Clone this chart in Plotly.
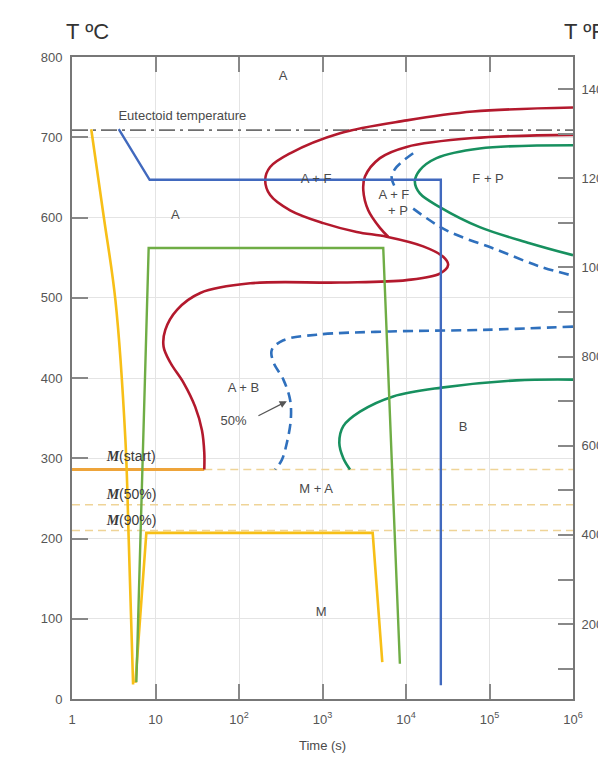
import numpy as np
import plotly.graph_objects as go

# ---------------- data (time in s, temperature in °C) ----------------
eutectoid_T = 709
ms_T = 286        # M(start)
m50_T = 242       # M(50%)
m90_T = 210       # M(90%)
t_min, t_max = 1, 1e6

# outer red curve (start of transformation, incl. bainite nose)
red_outer_t = [1e6, 63500, 10200, 1620, 409, 236, 206, 236, 409, 1023, 2570, 5860,
               16060, 27900, 31950, 25400, 10160, 1620, 136, 34.4, 18.1, 13.1, 12.5,
               15.1, 21.7, 29.9, 36.0, 38.4, 38.4]
red_outer_T = [737, 732, 721, 705, 680, 663, 647, 628, 609, 593, 582, 576,
               564, 551, 541, 530, 522, 519, 518, 506, 485, 460, 439,
               419, 394, 364, 335, 307, 286]

# inner red curve (start of pearlite)
red_inner_t = [1e6, 63500, 10160, 4875, 3225, 3080, 3530, 4875, 6120]
red_inner_T = [703, 699, 688, 674, 651, 634, 609, 587, 576]

# green curve – end of pearlite
pearl_end_t = [1e6, 76400, 23200, 14650, 12760, 14650, 25400, 76400, 302700, 1e6]
pearl_end_T = [690, 686, 674, 659, 645, 630, 613, 588, 568, 553]

# dashed blue – 50 % pearlite
pearl50_up_t = [12190, 7725, 6730, 7370]
pearl50_up_T = [680, 663, 651, 638]
pearl50_lo_t = [12190, 30550, 121100, 399000, 955000]
pearl50_lo_T = [611, 584, 560, 539, 528]

# dashed blue – 50 % bainite
bain50_t = [1e6, 83750, 6425, 853, 340, 247, 258, 340, 409, 417, 374, 326, 271]
bain50_T = [464, 460, 458, 454, 447, 435, 420, 398, 373, 348, 319, 298, 286]

# green curve – end of bainite
bain_end_t = [1e6, 210000, 26650, 7030, 2810, 1775, 1590, 1775, 2135]
bain_end_T = [398, 397, 388, 377, 358, 340, 319, 300, 286]

# cooling paths
yellow1_t = [1.70, 2.40, 3.31, 4.36, 4.78, 5.39]
yellow1_T = [710, 601, 497, 323, 198, 18]
yellow2_t = [5.74, 7.77, 3990, 5200]
yellow2_T = [20, 207, 207, 46]
olive_t = [5.90, 8.28, 5340, 8450]
olive_T = [21, 562, 562, 44]
blue_t = [3.63, 8.51, 26130, 26130]
blue_T = [710, 647, 647, 17]

# region labels
label_text = ["A", "A", "A + F", "A + F", "+ P", "F + P", "A + B", "B", "M + A", "M", "50%"]
label_t = [337, 17.3, 837, 7170, 8000, 96100, 113, 48300, 837, 962, 86]
label_T = [775, 602, 647, 627, 607, 647, 387, 338, 261, 107, 346]

arrow_tail = (164, 352)
arrow_head = (374, 371)

x_tickvals = [1, 10, 100, 1000, 1e4, 1e5, 1e6]
x_ticktext = ["1", "10", "10<sup>2</sup>", "10<sup>3</sup>", "10<sup>4</sup>",
              "10<sup>5</sup>", "10<sup>6</sup>"]
y_tickvals = list(range(0, 801, 100))
f_tickvals = list(range(100, 1401, 100))
f_ticktext = [str(v) if v % 200 == 0 else "" for v in f_tickvals]

# ---------------- styling ----------------
RED = "#b3192d"
YEL = "#f7bf17"
OLIVE = "#6fad45"
BLUE = "#4169be"
DBLUE = "#2f70bd"
TEAL = "#17905f"
ORANGE = "#eea43a"
PALE = "#efd497"
TXT = "#4a4a4a"
FONT = "Liberation Sans, Arial, sans-serif"

fig = go.Figure()

def line(t, T, color, width=2.6, dash="solid", shape="spline"):
    fig.add_trace(go.Scatter(x=t, y=T, mode="lines",
                             line=dict(color=color, width=width, dash=dash, shape=shape,
                                       smoothing=1.0),
                             hoverinfo="skip", showlegend=False))

# martensite lines
line([t_min, t_max], [m50_T, m50_T], PALE, 1.5, "8px,5px", "linear")
line([t_min, t_max], [m90_T, m90_T], PALE, 1.5, "8px,5px", "linear")
line([red_outer_t[-1], t_max], [ms_T, ms_T], PALE, 1.5, "8px,5px", "linear")
line([t_min, red_outer_t[-1]], [ms_T, ms_T], ORANGE, 3.0, "solid", "linear")

# eutectoid
line([t_min, t_max], [eutectoid_T, eutectoid_T], "#6e6e6e", 1.8, "16px,5px,3px,5px", "linear")

# transformation curves
line(red_outer_t, red_outer_T, RED)
line(red_inner_t, red_inner_T, RED)
line(pearl_end_t, pearl_end_T, TEAL)
line(bain_end_t, bain_end_T, TEAL)
line(pearl50_up_t, pearl50_up_T, DBLUE, 2.6, "10px,6px")
line(pearl50_lo_t, pearl50_lo_T, DBLUE, 2.6, "10px,6px")
line(bain50_t, bain50_T, DBLUE, 2.6, "10px,6px")

# cooling paths
line(yellow1_t, yellow1_T, YEL, 2.6)
line(yellow2_t, yellow2_T, YEL, 2.6, shape="linear")
line(olive_t, olive_T, OLIVE, 2.4, shape="linear")
line(blue_t, blue_T, BLUE, 2.4, shape="linear")

# labels
fig.add_trace(go.Scatter(x=label_t, y=label_T, mode="text", text=label_text,
                         textfont=dict(family=FONT, size=13, color=TXT),
                         hoverinfo="skip", showlegend=False))
fig.add_trace(go.Scatter(x=[3.6], y=[725.5], mode="text", text=["Eutectoid temperature"],
                         textposition="middle right",
                         textfont=dict(family=FONT, size=13, color=TXT),
                         hoverinfo="skip", showlegend=False))
m_labels = ["<b><i><span style='font-family:Liberation Serif,serif'>M</span></i></b>(start)",
            "<b><i><span style='font-family:Liberation Serif,serif'>M</span></i></b>(50%)",
            "<b><i><span style='font-family:Liberation Serif,serif'>M</span></i></b>(90%)"]
fig.add_trace(go.Scatter(x=[2.6, 2.6, 2.6], y=[300.5, 253, 221], mode="text", text=m_labels,
                         textposition="middle right",
                         textfont=dict(family=FONT, size=14, color="#3a3a3a"),
                         hoverinfo="skip", showlegend=False))

# invisible trace on the °F axis
fig.add_trace(go.Scatter(x=[10], y=[500], yaxis="y2", mode="markers",
                         marker=dict(opacity=0), hoverinfo="skip", showlegend=False))

fig.add_annotation(x=np.log10(arrow_head[0]), y=arrow_head[1],
                   ax=np.log10(arrow_tail[0]), ay=arrow_tail[1],
                   xref="x", yref="y", axref="x", ayref="y",
                   text="", showarrow=True, arrowhead=2, arrowsize=1.2,
                   arrowwidth=1.2, arrowcolor="#555")

fig.add_annotation(x=-0.016, y=1.04, xref="paper", yref="paper", text="T ºC",
                   showarrow=False, xanchor="left", yanchor="middle",
                   font=dict(family=FONT, size=22, color="#333"))
fig.add_annotation(x=0.978, y=1.04, xref="paper", yref="paper", text="T ºF",
                   showarrow=False, xanchor="left", yanchor="middle",
                   font=dict(family=FONT, size=22, color="#333"))
fig.add_annotation(x=0.5, y=-0.072, xref="paper", yref="paper", text="Time (s)",
                   showarrow=False, xanchor="center", yanchor="middle",
                   font=dict(family=FONT, size=13, color=TXT))

# page body has an 8px default margin: figure is sized/placed to compensate
fig.update_layout(
    width=598, height=750,
    margin=dict(l=64, r=33, t=49, b=59, autoexpand=False),
    paper_bgcolor="white", plot_bgcolor="white",
    font=dict(family=FONT, size=13, color="#555"),
    xaxis=dict(type="log", range=[0, 6], tickvals=x_tickvals, ticktext=x_ticktext,
               ticks="inside", ticklen=15, tickwidth=2, tickcolor="#888",
               showline=True, linecolor="#777", linewidth=2, mirror="ticks",
               showgrid=True, gridcolor="#e4e4e4", gridwidth=1, automargin=False,
               tickfont=dict(size=13, color="#555"), ticklabelstandoff=7),
    yaxis=dict(range=[0, 800], tickvals=y_tickvals,
               ticks="inside", ticklen=16, tickwidth=2, tickcolor="#888",
               showline=True, linecolor="#777", linewidth=2, automargin=False,
               showgrid=True, gridcolor="#e4e4e4", gridwidth=1, zeroline=False,
               tickfont=dict(size=13, color="#555"), ticklabelstandoff=5),
    yaxis2=dict(range=[32, 1472], overlaying="y", side="right",
                tickvals=f_tickvals, ticktext=f_ticktext,
                ticks="inside", ticklen=15, tickwidth=2, tickcolor="#888",
                showline=True, linecolor="#777", linewidth=2, automargin=False,
                showgrid=False, zeroline=False,
                tickfont=dict(size=13, color="#555"), ticklabelstandoff=4),
)

fig.write_html("out.html")
